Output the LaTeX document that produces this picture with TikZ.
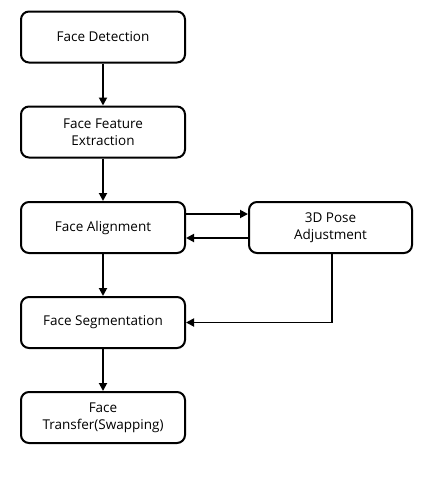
\documentclass[tikz,border=0pt]{standalone}
\usepackage{fontspec}
\setmainfont{Open Sans}
\usetikzlibrary{arrows.meta}
\begin{document}
\begin{tikzpicture}[x=1pt,y=-1pt,
  box/.style={draw, line width=2pt, rounded corners=8pt, minimum width=164pt, minimum height=51pt, align=center, font=\fontsize{13.5}{17}\selectfont, inner sep=2pt},
  arr/.style={line width=1.8pt, -{Triangle[length=8pt,width=8pt]}}]
\useasboundingbox (0,0) rectangle (431,479);
\node[box] (a1) at (103,37) {Face Detection};
\node[box] (a2) at (103,132) {Face Feature\\Extraction};
\node[box] (a3) at (103,227.5) {Face Alignment};
\node[box] (a4) at (103,322.5) {Face Segmentation};
\node[box] (a5) at (103,417.5) {Face\\Transfer(Swapping)};
\node[box, minimum width=163pt] (r) at (330.5,227.5) {3D Pose\\Adjustment};
\draw[arr] (a1) -- (a2);
\draw[arr] (a2) -- (a3);
\draw[arr] (a3) -- (a4);
\draw[arr] (a4) -- (a5);
\draw[arr] ([yshift=13.5pt]a3.east) -- ([yshift=13.5pt]r.west);
\draw[arr] ([yshift=-10.5pt]r.west) -- ([yshift=-10.5pt]a3.east);
\draw[arr] ([xshift=1.5pt]r.south) |- (a4.east);
\end{tikzpicture}
\end{document}
